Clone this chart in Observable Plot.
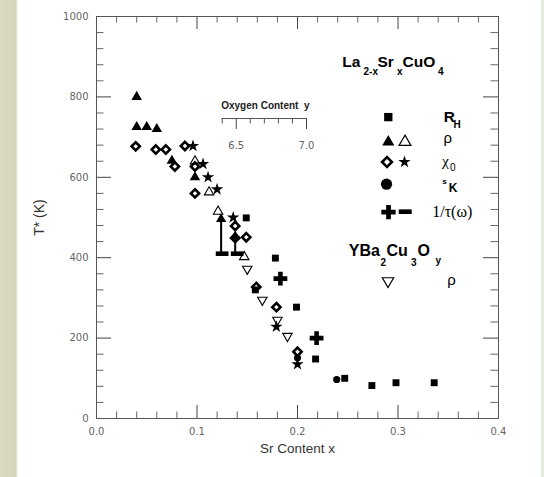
<!DOCTYPE html>
<html><head><meta charset="utf-8">
<script src="https://cdn.jsdelivr.net/npm/d3@7"></script>
<script src="https://cdn.jsdelivr.net/npm/@observablehq/plot@0.6"></script>
<style>
html,body{margin:0;padding:0;}
body{width:544px;height:477px;overflow:hidden;background:linear-gradient(to right,#dbdac2 0,#d5d5bb 16px,#eceee2 17px,#fff 18px,#fff 541px,#e3ecd8 541px);}
#wrap{position:relative;width:544px;height:477px;}
#wrap svg{position:absolute;left:0;top:0;overflow:visible;}
</style></head><body><div id="wrap"></div>
<script>
// ---------- data ----------
const rhX = [0.149, 0.158, 0.178, 0.199, 0.218, 0.247, 0.274, 0.298, 0.336];
const rhT = [499, 320, 399, 277, 148, 100, 82, 89, 89];
const rhoFilledX = [0.04, 0.04, 0.05, 0.06, 0.075, 0.098];
const rhoFilledT = [800, 725, 725, 720, 641, 600];
const rhoOpenX = [0.098, 0.112, 0.121, 0.147];
const rhoOpenT = [640, 563, 515, 402];
const chiDiamondX = [0.039, 0.059, 0.069, 0.078, 0.088, 0.098, 0.098, 0.138, 0.138, 0.149, 0.159, 0.179, 0.2];
const chiDiamondT = [677, 669, 669, 627, 678, 627, 560, 479, 449, 451, 327, 277, 166];
const chiStarX = [0.096, 0.106, 0.111, 0.12, 0.136, 0.179, 0.2];
const chiStarT = [678, 633, 600, 570, 500, 228, 135];
const knightX = [0.2, 0.239];
const knightT = [151, 97];
const tauPlusX = [0.183, 0.219];
const tauPlusT = [348, 200];
const tauMinusX = [0.125, 0.14];
const tauMinusT = [410, 410];
const tauBarX = [0.124, 0.138];
const tauBarLow = [410, 410];
const tauBarHigh = [496, 453];
const ybcoX = [0.15, 0.165, 0.18, 0.19];
const ybcoT = [372, 295, 245, 205];
const xMajorTicks = [0, 0.1, 0.2, 0.3, 0.4];
const yMajorTicks = [0, 200, 400, 600, 800, 1000];
const oxygenTicks = [6.4, 6.5, 6.6, 6.7, 6.8, 6.9, 7.0];
const oxygenMajor = [6.5, 7.0];

// ---------- helpers ----------
const zip = (xs, ys) => xs.map((x, i) => ({x, y: ys[i]}));
const xMinorTicks = d3.range(0, 0.4001, 0.02).filter(v => !xMajorTicks.some(m => Math.abs(m - v) < 1e-9));
const yMinorTicks = d3.range(0, 1000.1, 40).filter(v => !yMajorTicks.includes(v));
const oxygenMinor = oxygenTicks.filter(v => !oxygenMajor.some(m => Math.abs(m - v) < 1e-9));
const bars = tauBarX.map((x, i) => ({x, lo: tauBarLow[i], hi: tauBarHigh[i]}));

const downTri = {draw(ctx, size) {
  const y = Math.sqrt(size / (3 * Math.sqrt(3)));
  ctx.moveTo(0, 2 * y); ctx.lineTo(Math.sqrt(3) * y, -y); ctx.lineTo(-Math.sqrt(3) * y, -y); ctx.closePath();
}};
const minusSym = {draw(ctx, size) {
  const w = Math.sqrt(size) * 0.62, h = w * 0.36;
  ctx.rect(-w, -h, 2 * w, 2 * h);
}};

const W = 544, H = 477, mL = 96, mR = 46, mT = 16, mB = 59;
const iW = W - mL - mR, iH = H - mT - mB;
const at = (X, Y) => ({frameAnchor: "top-left", dx: X - mL, dy: Y - mT});
const sans = "Liberation Sans, Arial, sans-serif";
const serif = "Liberation Serif, Times New Roman, serif";
const sym = (X, Y, o) => Plot.dot([0], {...at(X, Y), ...o});
const txt = (s, X, Y, size, o = {}) => Plot.text([s], {...at(X, Y), text: d => d, textAnchor: "start", lineAnchor: "bottom",
  fontSize: size, fontFamily: sans, fill: "black", ...o});
const B = {fontWeight: "bold"};

const marks = [
  // inward ticks on all four sides
  Plot.tickX(xMajorTicks, {x: d => d, insetTop: iH - 13, stroke: "#444"}),
  Plot.tickX(xMinorTicks, {x: d => d, insetTop: iH - 6.5, stroke: "#666"}),
  Plot.tickX(xMajorTicks, {x: d => d, insetBottom: iH - 13, stroke: "#444"}),
  Plot.tickX(xMinorTicks, {x: d => d, insetBottom: iH - 6.5, stroke: "#666"}),
  Plot.tickY(yMajorTicks, {y: d => d, insetRight: iW - 15, stroke: "#444"}),
  Plot.tickY(yMinorTicks, {y: d => d, insetRight: iW - 7.5, stroke: "#666"}),
  Plot.tickY(yMajorTicks, {y: d => d, insetLeft: iW - 15, stroke: "#444"}),
  Plot.tickY(yMinorTicks, {y: d => d, insetLeft: iW - 7.5, stroke: "#666"}),
  Plot.frame({stroke: "#555"}),
  // axis titles
  Plot.text(["Sr Content x"], {frameAnchor: "bottom", dy: 34, lineAnchor: "bottom", textAnchor: "middle", fontSize: 13.5, fontFamily: sans, fill: "#333"}),
  Plot.text(["T* (K)"], {frameAnchor: "left", dx: -53, rotate: -90, lineAnchor: "bottom", textAnchor: "middle", fontSize: 14, fontFamily: sans, fill: "#333"}),
  // data
  Plot.ruleX(bars, {x: "x", y1: "lo", y2: "hi", stroke: "black", strokeWidth: 2}),
  Plot.dot(bars, {x: "x", y: "hi", symbol: "triangle", r: 3.8, fill: "black"}),
  Plot.dot(zip(tauMinusX, tauMinusT), {x: "x", y: "y", symbol: minusSym, r: 5.8, fill: "black"}),
  Plot.dot(zip(rhoFilledX, rhoFilledT), {x: "x", y: "y", symbol: "triangle", r: 3.9, fill: "black"}),
  Plot.dot(zip(rhoOpenX, rhoOpenT), {x: "x", y: "y", symbol: "triangle", r: 3.5, fill: "none", stroke: "black", strokeWidth: 1.1}),
  Plot.dot(zip(ybcoX, ybcoT), {x: "x", y: "y", symbol: downTri, r: 3.5, fill: "none", stroke: "black", strokeWidth: 1.1}),
  Plot.dot(zip(rhX, rhT), {x: "x", y: "y", symbol: "square", r: 3.9, fill: "black"}),
  Plot.dot(zip(knightX, knightT), {x: "x", y: "y", symbol: "circle", r: 3.6, fill: "black"}),
  Plot.dot(zip(chiStarX, chiStarT), {x: "x", y: "y", symbol: "star", r: 3.9, fill: "black"}),
  Plot.dot(zip(chiDiamondX, chiDiamondT), {x: "x", y: "y", symbol: "diamond2", r: 3.7, fill: "none", stroke: "black", strokeWidth: 2.6}),
  Plot.dot(zip(tauPlusX, tauPlusT), {x: "x", y: "y", symbol: "cross", r: 5.8, fill: "black"}),
  // compound title La2-xSrxCuO4
  txt("La", 341.7, 66, 15.5, B), txt("2-x", 363, 74.3, 10, B), txt("Sr", 377, 66, 15.5, B),
  txt("x", 396.5, 74.3, 10, B), txt("CuO", 402, 66, 15.5, B), txt("4", 437.5, 74.3, 10, B),
  // legend rows
  sym(387.8, 116.6, {symbol: "square", r: 4.7, fill: "black"}),
  txt("R", 443.3, 121, 15.5, B), txt("H", 453, 127, 10, B),
  sym(387.8, 141.5, {symbol: "triangle", r: 4.5, fill: "black"}),
  sym(404.5, 141.5, {symbol: "triangle", r: 4.4, fill: "none", stroke: "black", strokeWidth: 1.2}),
  txt("ρ", 443, 142, 15),
  sym(386.5, 161.5, {symbol: "diamond2", r: 4.4, fill: "none", stroke: "black", strokeWidth: 2.6}),
  sym(404, 161.5, {symbol: "star", r: 3.9, fill: "black"}),
  txt("χ", 441.5, 165, 15.5, {fontFamily: serif}), txt("0", 449.5, 170.5, 10),
  sym(386, 183.7, {symbol: "circle", r: 5.6, fill: "black"}),
  txt("s", 441.7, 183, 8, B), txt("K", 448.3, 191.7, 12, B),
  sym(388, 211.7, {symbol: "cross", r: 6, fill: "black"}),
  sym(404.7, 211.2, {symbol: minusSym, r: 5.9, fill: "black"}),
  txt("1/τ(ω)", 431.7, 216.5, 16, {fontFamily: serif}),
  // YBa2Cu3Oy
  txt("YBa", 348.3, 255, 16, B), txt("2", 380, 265, 10, B), txt("Cu", 386, 255, 16, B),
  txt("3", 410.5, 265, 10, B), txt("O", 417, 255, 16, B), txt("y", 435, 263, 10, B),
  sym(387.5, 280.5, {symbol: downTri, r: 4.2, fill: "none", stroke: "black", strokeWidth: 1.2}),
  txt("ρ", 446.7, 284.5, 15)
];

const main = Plot.plot({
  width: W, height: H, marginLeft: mL, marginRight: mR, marginTop: mT, marginBottom: mB,
  style: {fontFamily: "DejaVu Sans", fontSize: "10px", color: "#666", background: "transparent"},
  x: {domain: [0, 0.4], ticks: xMajorTicks, tickFormat: ".1f", tickSize: 0, tickPadding: 9, label: null},
  y: {domain: [0, 1000], ticks: yMajorTicks, tickFormat: d => String(d), tickSize: 0, tickPadding: 8, label: null},
  marks
});

// inset "Oxygen Content y" axis, its own scale
const iwW = 130, iwH = 60, iL = 21.7, iR = 24, iTop = 23, iBot = 26;
const inset = Plot.plot({
  width: iwW, height: iwH, marginLeft: iL, marginRight: iR, marginTop: iTop, marginBottom: iBot,
  style: {fontFamily: "DejaVu Sans", fontSize: "10px", color: "#666", background: "transparent"},
  x: {domain: [6.4, 7.0], ticks: oxygenMajor, tickFormat: ".1f", tickSize: 0, tickPadding: 12.5, label: null},
  y: {domain: [0, 1], axis: null},
  marks: [
    Plot.ruleY([1], {stroke: "#555"}),
    Plot.tickX(oxygenMajor, {x: d => d, stroke: "#444"}),
    Plot.tickX(oxygenMinor, {x: d => d, insetBottom: 5.5, stroke: "#555"}),
    Plot.text(["Oxygen Content\u00a0\u00a0y"], {frameAnchor: "top-left", dx: -1, dy: -10, textAnchor: "start", lineAnchor: "bottom",
      fontSize: 10, fontWeight: "bold", fontFamily: sans, fill: "#222"})
  ]
});

const wrap = document.getElementById("wrap");
wrap.appendChild(main);
inset.style.left = "200px";
inset.style.top = "95px";
wrap.appendChild(inset);
</script></body></html>
